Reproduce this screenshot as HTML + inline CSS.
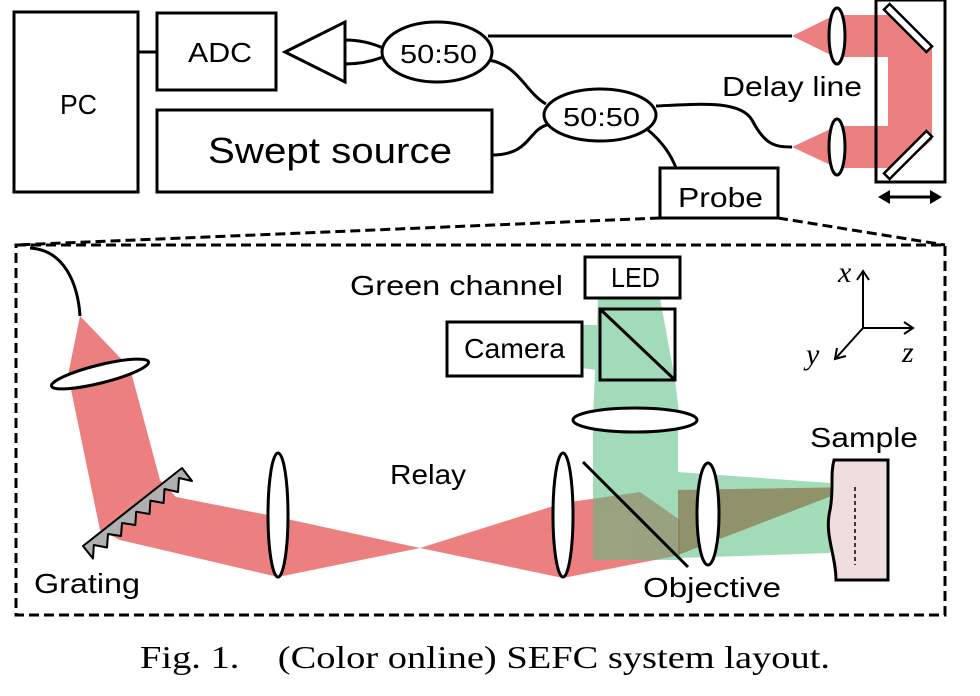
<!DOCTYPE html>
<html><head><meta charset="utf-8"><style>
html,body{margin:0;padding:0;background:#fff;}
svg{display:block;}
text{font-family:"Liberation Sans",sans-serif;fill:#000;}
</style></head><body>
<svg width="980" height="696" viewBox="0 0 980 696" xmlns="http://www.w3.org/2000/svg">
<g fill="none" stroke="#000" stroke-width="3">
<rect x="14" y="12" width="124" height="180" fill="#fff"/>
<rect x="157" y="13" width="119" height="77" fill="#fff"/>
<rect x="157" y="110" width="335" height="82" fill="#fff"/>
<line x1="138" y1="52" x2="157" y2="52"/>
<polygon points="285,52 345,22 345,82" fill="#fff"/>
<path d="M345,40 Q365,40 383,48 M345,64 Q365,64 383,57"/>
</g>
<g fill="#ec8080" stroke="none">
<polygon points="792,36 837,14 837,58"/>
<polygon points="792,147 837,126 837,168"/>
<path d="M837,15 L900,15 L932,45 L932,140 L900,168 L837,168 L837,126 L888,126 L888,57 L837,57 Z"/>
</g>
<g fill="none" stroke="#000" stroke-width="3">
<ellipse cx="437" cy="52" rx="55" ry="30" fill="#fff"/>
<ellipse cx="600" cy="115" rx="56" ry="26" fill="#fff"/>
<line x1="488" y1="36" x2="792" y2="36"/>
<path d="M489,60 C520,66 525,92 546,104"/>
<path d="M492,155 C530,155 528,130 547,125"/>
<path d="M656,106 C700,104 740,100 752,120 C765,145 775,147 792,147"/>
<path d="M648,130 C660,140 670,152 676,168"/>
<rect x="660" y="168" width="118" height="50" fill="#fff"/>
<ellipse cx="837" cy="36" rx="8" ry="28" fill="#fff"/>
<ellipse cx="837" cy="147" rx="8" ry="28" fill="#fff"/>
<rect x="876" y="0" width="69" height="182"/>
<g transform="translate(908,28) rotate(45)"><rect x="-30" y="-4" width="60" height="8" fill="#fff" stroke-width="2.5"/></g>
<g transform="translate(908,155) rotate(-45)"><rect x="-30" y="-4" width="60" height="8" fill="#fff" stroke-width="2.5"/></g>
<line x1="884" y1="197" x2="936" y2="197"/>
</g>
<polygon points="878,197 890,190 890,204" fill="#000"/>
<polygon points="942,197 930,190 930,204" fill="#000"/>
<g fill="none" stroke="#000" stroke-width="3" stroke-dasharray="10,5">
<rect x="16" y="245" width="929" height="370"/>
<line x1="660" y1="218" x2="16" y2="245"/>
<line x1="778" y1="218" x2="945" y2="245"/>
</g>
<g fill="#ec8080">
<polygon points="80,316 130,368 160,480 100,530 68,375"/>
<polygon points="100,530 160,480 176,497 278,517 278,577 120,540"/>
<polygon points="278,517 278,577 420,548"/>
<polygon points="420,548 563,503 563,578"/>
<polygon points="563,503 640,492 680,520 680,555 563,578"/>
</g>
<g fill="#56bf80" opacity="0.55">
<polygon points="598,298 660,298 675,380 680,420 593,420"/>
<polygon points="582,325 640,325 675,380 582,368"/>
<rect x="593" y="420" width="85" height="140"/>
<polygon points="678,472 830,483 830,553 678,558"/>
</g>
<polygon points="678,490 855,487 678,555" fill="#8a7a50" opacity="0.75"/>
<g fill="none" stroke="#000" stroke-width="3">
<path d="M30,248 C65,250 78,285 80,316"/>
<ellipse cx="100" cy="374" rx="50" ry="9" transform="rotate(-14 100 374)" fill="#fff"/>
<polygon points="83,546 182,468 192,481 179,478 178,492 164.5,489 163.6,503 150.4,500.6 149.5,514 136.2,511.7 135.3,525 122,523 121,536 108,534 107,547.5 93.8,545 93,558.6" fill="#b0b0b0" stroke-width="2" stroke-linejoin="round"/>
<ellipse cx="278" cy="515" rx="10" ry="62" fill="#fff"/>
<ellipse cx="563" cy="515" rx="10" ry="62" fill="#fff"/>
<line x1="583" y1="462" x2="688" y2="567"/>
<ellipse cx="708" cy="514" rx="11" ry="51" fill="#fff"/>
<ellipse cx="635" cy="420" rx="62" ry="12" fill="#fff"/>
<rect x="585" y="257" width="95" height="41" fill="#fff"/>
<rect x="600" y="309" width="75" height="71"/>
<line x1="600" y1="309" x2="675" y2="380"/>
<rect x="447" y="322" width="135" height="54" fill="#fff"/>
<path d="M834,460 L888,460 L888,580 L836,580 C836,555 824,535 830,510 C834,490 830,475 834,460 Z" fill="#f0dede"/>
<line x1="855" y1="487" x2="855" y2="565" stroke-width="1.5" stroke-dasharray="4,3"/>
<g stroke-width="2">
<line x1="863" y1="328" x2="863" y2="272"/>
<line x1="863" y1="328" x2="912" y2="328"/>
<line x1="863" y1="328" x2="836" y2="358"/>
<path d="M857,280 L863,271 L869,280 M904,322 L913,328 L904,334 M837,348 L835,359 L846,356"/>
</g>
</g>
<g font-size="28">
<text x="60" y="114" textLength="37" lengthAdjust="spacingAndGlyphs">PC</text>
<text x="188" y="62" textLength="64" lengthAdjust="spacingAndGlyphs">ADC</text>
<text x="208" y="163" font-size="36" textLength="244" lengthAdjust="spacingAndGlyphs">Swept source</text>
<text x="400" y="63" font-size="26" textLength="77" lengthAdjust="spacingAndGlyphs">50:50</text>
<text x="563" y="126" font-size="26" textLength="77" lengthAdjust="spacingAndGlyphs">50:50</text>
<text x="722" y="96" textLength="140" lengthAdjust="spacingAndGlyphs">Delay line</text>
<text x="678" y="207" textLength="85" lengthAdjust="spacingAndGlyphs">Probe</text>
<text x="350" y="295" textLength="213" lengthAdjust="spacingAndGlyphs">Green channel</text>
<text x="611" y="287" textLength="49" lengthAdjust="spacingAndGlyphs">LED</text>
<text x="464" y="358" textLength="101" lengthAdjust="spacingAndGlyphs">Camera</text>
<text x="390" y="484" textLength="76" lengthAdjust="spacingAndGlyphs">Relay</text>
<text x="34" y="593" textLength="106" lengthAdjust="spacingAndGlyphs">Grating</text>
<text x="643" y="597" textLength="138" lengthAdjust="spacingAndGlyphs">Objective</text>
<text x="810" y="447" textLength="108" lengthAdjust="spacingAndGlyphs">Sample</text>
</g>
<text x="838" y="282" font-size="30" font-style="italic" style="font-family:'Liberation Serif',serif">x</text>
<text x="806" y="364" font-size="30" font-style="italic" style="font-family:'Liberation Serif',serif">y</text>
<text x="902" y="362" font-size="30" font-style="italic" style="font-family:'Liberation Serif',serif">z</text>
<text x="140" y="668" font-size="32" textLength="690" lengthAdjust="spacingAndGlyphs" style="font-family:'Liberation Serif',serif" xml:space="preserve">Fig. 1.    (Color online) SEFC system layout.</text>
</svg>
</body></html>
